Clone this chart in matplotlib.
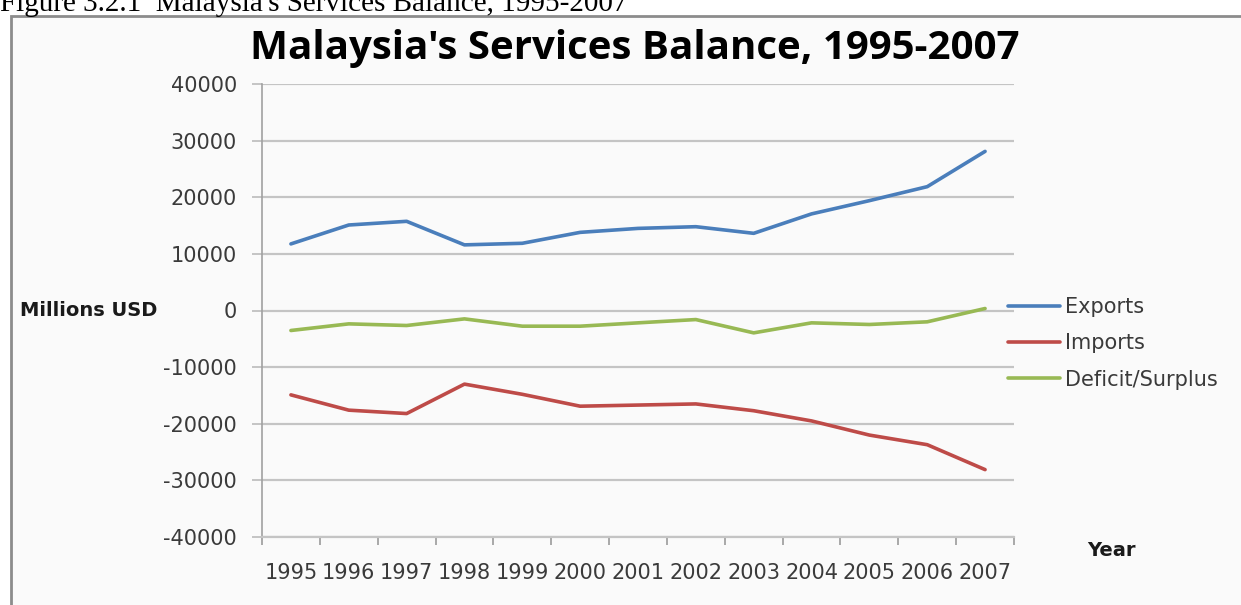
import matplotlib
matplotlib.use("Agg")
import matplotlib.pyplot as plt
from matplotlib.patches import Rectangle
import numpy as np

# services trade, millions of USD
years = ["1995", "1996", "1997", "1998", "1999", "2000", "2001",
         "2002", "2003", "2004", "2005", "2006", "2007"]
exports = [11760, 15100, 15750, 11590, 11870, 13800, 14500,
           14800, 13630, 17060, 19400, 21870, 28100]
imports = [-14900, -17600, -18200, -13000, -14800, -16900, -16700,
           -16500, -17700, -19500, -22000, -23700, -28100]
balance = [-3530, -2360, -2650, -1480, -2770, -2770, -2180,
           -1600, -3950, -2180, -2470, -2000, 350]
yticks = [40000, 30000, 20000, 10000, 0, -10000, -20000, -30000, -40000]

W, H = 1241, 605
fig = plt.figure(figsize=(W / 100, H / 100), dpi=100)
fig.patch.set_facecolor("white")

# caption above the chart box (top half runs off the page)
fig.text(0.0, 1 - 11 / H, "Figure 3.2.1  Malaysia's Services Balance, 1995-2007",
         family="Liberation Serif", fontsize=21, ha="left", va="baseline",
         color="black")

# chart box
box = Rectangle((11 / W, -0.1), 1.1, 1 - 16 / H + 0.1, transform=fig.transFigure,
                facecolor="#fafafa", edgecolor="#8c8c8c", linewidth=2,
                clip_on=False, zorder=-5)
fig.patches.append(box)

ax = fig.add_axes([262 / W, 1 - 537 / H, (1014 - 262) / W, (537 - 84) / H])
ax.set_zorder(2)
ax.set_facecolor("none")

x = np.arange(len(years))
grid_c = "#c4c4c4"
ax.plot(x, exports, color="#4a7ebb", lw=2.6, solid_capstyle="round",
        solid_joinstyle="round", label="Exports", zorder=3)
ax.plot(x, imports, color="#be4b48", lw=2.6, solid_capstyle="round",
        solid_joinstyle="round", label="Imports", zorder=3)
ax.plot(x, balance, color="#98b954", lw=2.6, solid_capstyle="round",
        solid_joinstyle="round", label="Deficit/Surplus", zorder=3)

ax.set_xlim(-0.5, len(years) - 0.5)
ax.set_ylim(-40000, 40000)
ax.set_yticks(yticks)
ax.set_yticklabels([str(v) for v in yticks])
ax.yaxis.grid(True, color=grid_c, lw=1.6)
ax.set_axisbelow(True)

# category labels sit between the tick marks
ax.set_xticks(x)
ax.set_xticklabels(years)
ax.set_xticks(np.arange(len(years) + 1) - 0.5, minor=True)
ax.tick_params(axis="x", which="major", length=0, pad=19,
               labelsize=15, labelcolor="#3a3a3a")
ax.tick_params(axis="x", which="minor", length=6, width=1.2, color="#9a9a9a",
               direction="out")
ax.tick_params(axis="y", length=7, width=1.4, color=grid_c, pad=11,
               labelsize=15, labelcolor="#3a3a3a")

for s in ["top", "right"]:
    ax.spines[s].set_visible(False)
ax.spines["left"].set_color("#a0a0a0")
ax.spines["left"].set_linewidth(1.2)
ax.spines["bottom"].set_color(grid_c)
ax.spines["bottom"].set_linewidth(1.6)

fig.text(635 / W, 1 - 48 / H, "Malaysia's Services Balance, 1995-2007",
         family="Open Sans", fontweight="bold", fontsize=29, ha="center",
         va="center", color="black")
fig.text(20 / W, 1 - 310 / H, "Millions USD", fontweight="bold",
         fontsize=14, ha="left", va="center", color="#1a1a1a")
fig.text(1111 / W, 1 - 550 / H, "Year", fontweight="bold",
         fontsize=14, ha="center", va="center", color="#1a1a1a")

leg = ax.legend(loc="upper left", bbox_to_anchor=(1008 / W, 1 - 297 / H),
                bbox_transform=fig.transFigure, frameon=False,
                fontsize=15, handlelength=2.5, handletextpad=0.25,
                labelspacing=0.78, borderpad=0, borderaxespad=0)
for t in leg.get_texts():
    t.set_color("#3a3a3a")

fig.savefig("out.png", dpi=100, facecolor=fig.get_facecolor())
